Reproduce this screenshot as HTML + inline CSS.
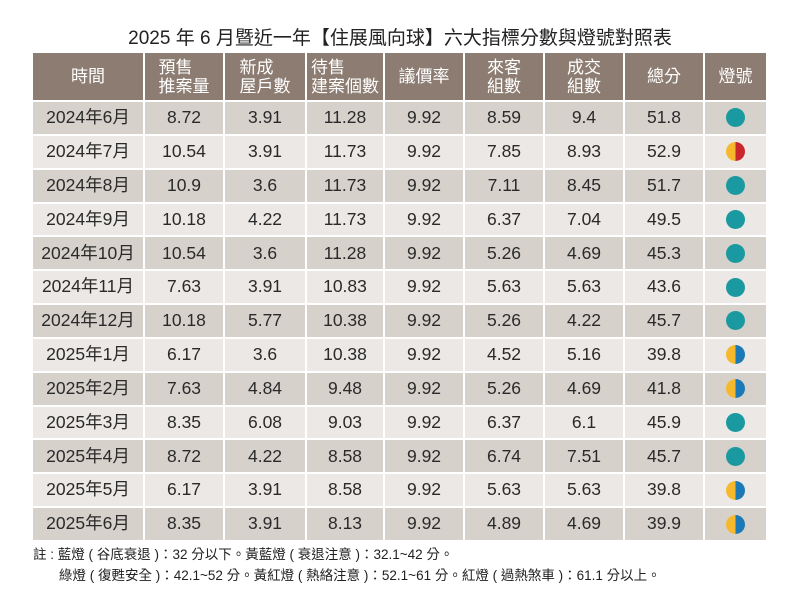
<!DOCTYPE html><html><head><meta charset="utf-8"><style>
body{margin:0;width:800px;height:600px;background:#fff;font-family:"Liberation Sans","Noto Sans CJK TC",sans-serif;position:relative;overflow:hidden}
.t{position:absolute;top:27px;left:0;width:800px;text-align:center;font-size:19px;color:#222;line-height:24px}
.tb{position:absolute;left:33px;top:53px;width:733px}
.r{display:flex;height:33.85px}
.r>div{box-sizing:border-box;border-right:2px solid #fff;border-bottom:2px solid #fff;display:flex;align-items:center;justify-content:center;font-size:17.5px;color:#2a2a2a;line-height:1}
.r>div:last-child{border-right:none}
.h{height:49px}
.h>div{background:#8c7c71;color:#fff!important;flex-direction:column;line-height:19px!important;font-size:17px!important}
.r:nth-child(even)>div{background:#d7d1cc}
.r:nth-child(odd):not(.h)>div{background:#ebe8e5}
.c0{width:112px}.c1{width:80px}.c2{width:82px}.c3{width:78px}.c4,.c5,.c6,.c7{width:80px}.c8{width:61px}
.d{display:inline-block;width:19px;height:19px;border-radius:50%}
.g{background:#1a9aa0}
.yr{background:linear-gradient(90deg,#f6b92e 50%,#c9262d 50%)}
.yb{background:linear-gradient(90deg,#f6b92e 50%,#1b79b5 50%)}
.n{position:absolute;left:33px;font-size:13.5px;color:#222}
</style></head><body>
<div class="t">2025 年 6 月暨近一年【住展風向球】六大指標分數與燈號對照表</div>
<div class="tb">
<div class="r h"><div class="c0">時間</div><div class="c1">預售<br>推案量</div><div class="c2">新成<br>屋戶數</div><div class="c3">待售<br>建案個數</div><div class="c4">議價率</div><div class="c5">來客<br>組數</div><div class="c6">成交<br>組數</div><div class="c7">總分</div><div class="c8">燈號</div></div>
<div class="r"><div class="c0">2024年6月</div><div class="c1">8.72</div><div class="c2">3.91</div><div class="c3">11.28</div><div class="c4">9.92</div><div class="c5">8.59</div><div class="c6">9.4</div><div class="c7">51.8</div><div class="c8"><span class="d g"></span></div></div>
<div class="r"><div class="c0">2024年7月</div><div class="c1">10.54</div><div class="c2">3.91</div><div class="c3">11.73</div><div class="c4">9.92</div><div class="c5">7.85</div><div class="c6">8.93</div><div class="c7">52.9</div><div class="c8"><span class="d yr"></span></div></div>
<div class="r"><div class="c0">2024年8月</div><div class="c1">10.9</div><div class="c2">3.6</div><div class="c3">11.73</div><div class="c4">9.92</div><div class="c5">7.11</div><div class="c6">8.45</div><div class="c7">51.7</div><div class="c8"><span class="d g"></span></div></div>
<div class="r"><div class="c0">2024年9月</div><div class="c1">10.18</div><div class="c2">4.22</div><div class="c3">11.73</div><div class="c4">9.92</div><div class="c5">6.37</div><div class="c6">7.04</div><div class="c7">49.5</div><div class="c8"><span class="d g"></span></div></div>
<div class="r"><div class="c0">2024年10月</div><div class="c1">10.54</div><div class="c2">3.6</div><div class="c3">11.28</div><div class="c4">9.92</div><div class="c5">5.26</div><div class="c6">4.69</div><div class="c7">45.3</div><div class="c8"><span class="d g"></span></div></div>
<div class="r"><div class="c0">2024年11月</div><div class="c1">7.63</div><div class="c2">3.91</div><div class="c3">10.83</div><div class="c4">9.92</div><div class="c5">5.63</div><div class="c6">5.63</div><div class="c7">43.6</div><div class="c8"><span class="d g"></span></div></div>
<div class="r"><div class="c0">2024年12月</div><div class="c1">10.18</div><div class="c2">5.77</div><div class="c3">10.38</div><div class="c4">9.92</div><div class="c5">5.26</div><div class="c6">4.22</div><div class="c7">45.7</div><div class="c8"><span class="d g"></span></div></div>
<div class="r"><div class="c0">2025年1月</div><div class="c1">6.17</div><div class="c2">3.6</div><div class="c3">10.38</div><div class="c4">9.92</div><div class="c5">4.52</div><div class="c6">5.16</div><div class="c7">39.8</div><div class="c8"><span class="d yb"></span></div></div>
<div class="r"><div class="c0">2025年2月</div><div class="c1">7.63</div><div class="c2">4.84</div><div class="c3">9.48</div><div class="c4">9.92</div><div class="c5">5.26</div><div class="c6">4.69</div><div class="c7">41.8</div><div class="c8"><span class="d yb"></span></div></div>
<div class="r"><div class="c0">2025年3月</div><div class="c1">8.35</div><div class="c2">6.08</div><div class="c3">9.03</div><div class="c4">9.92</div><div class="c5">6.37</div><div class="c6">6.1</div><div class="c7">45.9</div><div class="c8"><span class="d g"></span></div></div>
<div class="r"><div class="c0">2025年4月</div><div class="c1">8.72</div><div class="c2">4.22</div><div class="c3">8.58</div><div class="c4">9.92</div><div class="c5">6.74</div><div class="c6">7.51</div><div class="c7">45.7</div><div class="c8"><span class="d g"></span></div></div>
<div class="r"><div class="c0">2025年5月</div><div class="c1">6.17</div><div class="c2">3.91</div><div class="c3">8.58</div><div class="c4">9.92</div><div class="c5">5.63</div><div class="c6">5.63</div><div class="c7">39.8</div><div class="c8"><span class="d yb"></span></div></div>
<div class="r"><div class="c0">2025年6月</div><div class="c1">8.35</div><div class="c2">3.91</div><div class="c3">8.13</div><div class="c4">9.92</div><div class="c5">4.89</div><div class="c6">4.69</div><div class="c7">39.9</div><div class="c8"><span class="d yb"></span></div></div>
</div>
<div class="n" style="top:543px">註 : 藍燈 ( 谷底衰退 )：32 分以下。黃藍燈 ( 衰退注意 )：32.1~42 分。</div>
<div class="n" style="top:564px;left:59px">綠燈 ( 復甦安全 )：42.1~52 分。黃紅燈 ( 熱絡注意 )：52.1~61 分。紅燈 ( 過熱煞車 )：61.1 分以上。</div>
</body></html>
